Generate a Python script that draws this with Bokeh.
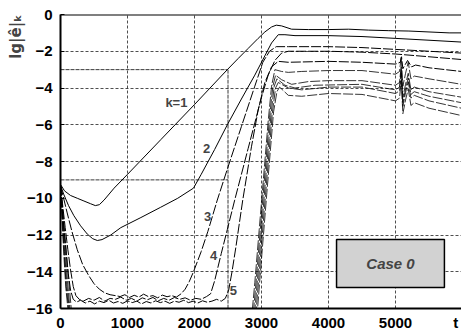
from bokeh.plotting import figure
from bokeh.models import Range1d, FixedTicker, Label, Span, Title
from bokeh.embed import file_html
from bokeh.resources import INLINE

# ---- data (t, lg|e|_k) ----
t1 = [0, 60, 150, 250, 350, 450, 520, 580, 650, 800, 1000, 1500, 2000, 2490, 2650, 2800, 2950, 3050, 3150, 3220, 3300, 3450, 3700, 4000, 4300, 4600, 4900, 5200, 5500, 5800, 5985]
v1 = [-9.25, -9.6, -9.85, -10.0, -10.15, -10.3, -10.4, -10.35, -10.1, -9.45, -8.7, -6.8, -4.9, -3.0, -2.4, -1.85, -1.3, -0.95, -0.68, -0.58, -0.62, -0.8, -0.82, -0.82, -0.8, -0.85, -0.88, -0.9, -0.95, -1.0, -1.0]

t2 = [0, 50, 120, 200, 300, 400, 480, 550, 620, 750, 900, 1200, 1490, 1750, 1985, 2100, 2300, 2490, 2700, 2900, 3050, 3150, 3250, 3350, 3500, 4000, 4500, 5000, 5500, 5985]
v2 = [-9.3, -9.8, -10.4, -10.95, -11.5, -11.95, -12.2, -12.3, -12.25, -12.0, -11.6, -11.05, -10.5, -10.0, -9.45, -8.7, -7.35, -6.0, -4.6, -3.3, -2.25, -1.55, -1.1, -1.1, -1.15, -1.15, -1.2, -1.3, -1.4, -1.5]

t3 = [0, 40, 100, 170, 250, 330, 420, 500, 580, 660, 740, 820, 890, 960, 1030, 1100, 1170, 1240, 1310, 1380, 1450, 1520, 1590, 1660, 1730, 1800, 1860, 1920, 1985, 2100, 2200, 2340, 2500, 2700, 2900, 3020, 3120, 3220, 3400, 4000, 4500, 5000, 5500, 5985]
v3 = [-9.3, -9.9, -10.8, -11.8, -12.8, -13.6, -14.2, -14.65, -14.95, -15.15, -15.25, -15.3, -15.35, -15.25, -15.4, -15.28, -15.38, -15.22, -15.35, -15.3, -15.42, -15.27, -15.36, -15.3, -15.38, -15.2, -14.95, -14.55, -14.0, -12.9, -11.8, -10.1, -8.3, -6.1, -3.9, -2.6, -2.0, -1.75, -1.75, -1.75, -1.8, -1.9, -2.0, -2.1]

t4 = [0, 30, 70, 110, 150, 190, 230, 280, 340, 420, 500, 580, 660, 740, 820, 900, 980, 1060, 1140, 1220, 1300, 1380, 1460, 1540, 1620, 1700, 1780, 1860, 1940, 2020, 2100, 2180, 2240, 2300, 2400, 2490, 2600, 2700, 2800, 2900, 3000, 3100, 3200, 3300, 3400, 4000, 4500, 5000, 5500, 5985]
v4 = [-9.3, -10.3, -11.6, -12.8, -13.9, -14.8, -15.3, -15.5, -15.6, -15.45, -15.55, -15.4, -15.6, -15.45, -15.5, -15.38, -15.55, -15.45, -15.6, -15.42, -15.52, -15.4, -15.58, -15.45, -15.55, -15.4, -15.5, -15.42, -15.55, -15.45, -15.5, -15.35, -15.2, -14.5, -13.0, -11.7, -10.1, -8.7, -7.3, -5.9, -4.5, -3.3, -2.5, -2.1, -2.0, -2.0, -2.05, -2.15, -2.3, -2.45]

t5 = [0, 25, 55, 85, 115, 150, 190, 240, 300, 370, 440, 510, 580, 650, 720, 790, 860, 930, 1000, 1070, 1140, 1210, 1280, 1350, 1420, 1490, 1560, 1630, 1700, 1770, 1840, 1910, 1980, 2050, 2120, 2190, 2260, 2330, 2400, 2460, 2510, 2560, 2620, 2720, 2850, 2950, 3050, 3150, 3250, 3400, 4000, 4500, 5000, 5070, 5090, 5110, 5180, 5240, 5300, 5500, 5985]
v5 = [-9.3, -10.5, -11.8, -13.0, -14.1, -15.0, -15.5, -15.65, -15.55, -15.7, -15.6, -15.75, -15.6, -15.68, -15.55, -15.7, -15.62, -15.72, -15.58, -15.68, -15.6, -15.75, -15.62, -15.7, -15.58, -15.68, -15.6, -15.72, -15.6, -15.66, -15.55, -15.68, -15.6, -15.7, -15.58, -15.66, -15.6, -15.5, -15.6, -15.45, -15.0, -14.0, -12.6, -10.1, -7.2, -5.2, -3.7, -2.85, -2.55, -2.6, -2.55, -2.6, -2.7, -2.6, -2.3, -2.95, -2.5, -2.85, -2.75, -2.9, -3.1]

t6 = [0, 40, 80, 120, 160, 200, 2840, 2900, 3000, 3100, 3150, 3200, 3300, 3400, 3600, 4000, 4500, 5000, 5060, 5085, 5110, 5150, 5190, 5230, 5280, 5500, 5985]
v6 = [-9.3, -10.9, -12.6, -14.3, -16.0, -17.0, -17.0, -14.6, -10.2, -5.8, -3.9, -3.0, -3.1, -3.15, -3.1, -3.05, -3.05, -3.25, -3.1, -2.3, -3.9, -3.2, -2.6, -3.5, -3.35, -3.5, -3.8]

t7 = [0, 35, 70, 105, 140, 180, 2860, 2920, 3020, 3120, 3170, 3210, 3300, 3450, 3700, 4000, 4500, 5000, 5060, 5085, 5110, 5150, 5190, 5230, 5280, 5500, 5985]
v7 = [-9.3, -11.0, -12.8, -14.5, -16.0, -17.0, -17.0, -14.5, -10.0, -5.6, -3.9, -3.3, -3.55, -3.8, -3.65, -3.6, -3.6, -3.85, -3.7, -2.8, -4.5, -3.8, -3.2, -4.1, -3.95, -4.2, -4.5]

t8 = [0, 30, 60, 95, 130, 170, 2880, 2940, 3040, 3140, 3190, 3230, 3350, 3500, 3800, 4500, 5000, 5060, 5085, 5110, 5150, 5190, 5230, 5280, 5500, 5985]
v8 = [-9.3, -11.1, -12.9, -14.7, -16.0, -17.0, -17.0, -14.4, -9.9, -5.5, -3.9, -3.5, -3.85, -4.0, -3.85, -3.8, -4.1, -3.95, -3.0, -4.8, -4.05, -3.45, -4.35, -4.2, -4.45, -4.8]

t9 = [0, 28, 55, 85, 120, 160, 2900, 2960, 3060, 3160, 3210, 3250, 3400, 3600, 4000, 4500, 5000, 5060, 5085, 5110, 5150, 5190, 5230, 5280, 5500, 5985]
v9 = [-9.3, -11.2, -13.0, -14.8, -16.0, -17.0, -17.0, -14.3, -9.8, -5.4, -4.0, -3.7, -4.0, -4.1, -3.95, -3.95, -4.3, -4.15, -3.2, -5.0, -4.25, -3.65, -4.55, -4.4, -4.7, -5.1]

t10 = [0, 25, 50, 80, 110, 150, 2920, 2980, 3080, 3180, 3230, 3270, 3400, 3600, 4000, 4500, 5000, 5060, 5085, 5110, 5150, 5190, 5230, 5280, 5500, 5985]
v10 = [-9.3, -11.3, -13.1, -14.9, -16.0, -17.0, -17.0, -14.2, -9.7, -5.3, -4.2, -3.95, -4.4, -4.45, -4.3, -4.35, -4.7, -4.55, -3.6, -5.4, -4.65, -4.05, -4.95, -4.8, -5.1, -5.5]

curves_t = [t1, t2, t3, t4, t5, t6, t7, t8, t9, t10]
curves_v = [v1, v2, v3, v4, v5, v6, v7, v8, v9, v10]

# curve labels
lab_text = ["k=1", "2", "3", "4", "5"]
lab_t = [1730, 2180, 2195, 2285, 2580]
lab_v = [-4.8, -7.3, -11.0, -13.1, -15.0]

# reference bracket lines
ref_x0 = [0, 0, 2500]
ref_y0 = [-3, -9, -3]
ref_x1 = [2500, 2500, 2500]
ref_y1 = [-3, -9, -16]

x_ticks = [0, 1000, 2000, 3000, 4000, 5000, 5900]
y_ticks = [-16, -14, -12, -10, -8, -6, -4, -2, 0]

p = figure(width=461, height=333, output_backend="svg", toolbar_location=None,
           x_range=Range1d(0, 5985), y_range=Range1d(-16, 0),
           min_border_left=60, min_border_right=0, min_border_top=14, min_border_bottom=24)
p.background_fill_color = "white"
p.outline_line_color = None

FONT = "Liberation Sans"
p.add_layout(Title(text="lg|ê|ₖ", align="right", text_font="DejaVu Sans",
                   text_font_style="bold", text_font_size="15px", standoff=0,
                   offset=0), "left")

p.xaxis.ticker = FixedTicker(ticks=x_ticks)
p.xaxis.major_label_overrides = {5900: "t"}
p.yaxis.ticker = FixedTicker(ticks=y_ticks)
for ax in (p.xaxis, p.yaxis):
    ax.axis_line_width = 2
    ax.axis_line_color = "black"
    ax.major_label_text_font = FONT
    ax.major_label_text_font_style = "bold"
    ax.major_label_text_font_size = "15px"
    ax.major_label_text_color = "black"
    ax.minor_tick_line_color = None
p.xaxis.major_tick_in = 0
p.xaxis.major_tick_out = 0
p.yaxis.major_tick_in = 4
p.yaxis.major_tick_out = 0
p.yaxis.major_label_standoff = 8
p.xaxis.major_label_standoff = 5

p.xgrid.ticker = FixedTicker(ticks=[1000, 2000, 3000, 4000, 5000])
p.ygrid.ticker = FixedTicker(ticks=[-14, -12, -8, -6, -4, -2])
for g in (p.xgrid, p.ygrid):
    g.grid_line_color = "#222222"
    g.grid_line_dash = "3 2"
    g.grid_line_width = 0.8

p.segment(x0=ref_x0, y0=ref_y0, x1=ref_x1, y1=ref_y1, line_color="#222222",
          line_width=0.9, line_dash="4 1")

p.add_layout(Span(location=0, dimension="width", line_color="black", line_width=2))

for i, (tt, vv) in enumerate(zip(curves_t, curves_v)):
    dash = "solid" if i < 2 else "10 2"
    w = 1.0 if i < 5 else 0.8
    p.line(tt, vv, line_color="black", line_width=w, line_dash=dash)

for txt, tx, ty in zip(lab_text, lab_t, lab_v):
    p.add_layout(Label(x=tx, y=ty, text=txt, text_font=FONT, text_font_style="bold",
                       text_font_size="13px", text_align="center", text_baseline="middle"))

# Case 0 box
p.quad(left=[4120], right=[5730], top=[-12.24], bottom=[-14.86],
       fill_color="#d2d2d2", line_color="black", line_width=1.5)
p.add_layout(Label(x=4925, y=-13.55, text="Case 0", text_font=FONT,
                   text_font_style="bold italic", text_font_size="15px",
                   text_align="center", text_baseline="middle"))

open("out.html", "w").write(file_html(p, INLINE))
